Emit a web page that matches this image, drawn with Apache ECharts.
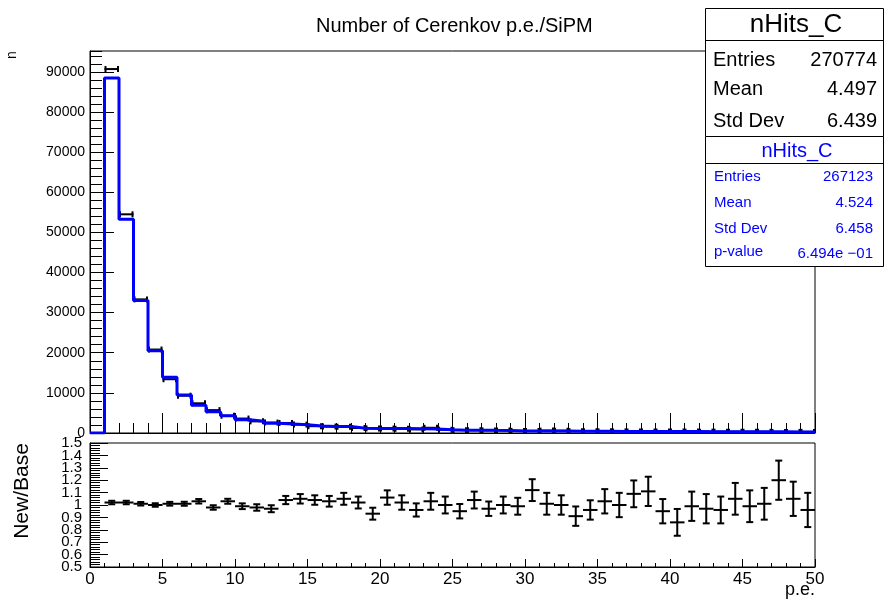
<!DOCTYPE html>
<html>
<head>
<meta charset="utf-8">
<script src="https://cdn.jsdelivr.net/npm/echarts@6/dist/echarts.min.js"></script>
<style>
  html, body { margin: 0; padding: 0; background: #fff; }
  #chart { width: 885px; height: 599px; }
</style>
</head>
<body>
<div id="chart"></div>
<script>
// bin low edges (width 1, 0..50)
const binLow = [0, 1, 2, 3, 4, 5, 6, 7, 8, 9, 10, 11, 12, 13, 14, 15, 16, 17, 18, 19,
    20, 21, 22, 23, 24, 25, 26, 27, 28, 29, 30, 31, 32, 33, 34, 35, 36, 37, 38, 39,
    40, 41, 42, 43, 44, 45, 46, 47, 48, 49];
// new sample (blue line)
const newCounts = [0, 88500, 53300, 33000, 20500, 13900, 9500, 6900, 5300, 4300,
    3300, 2900, 2400, 2250, 2080, 1750, 1650, 1600, 1200, 1150,
    1150, 1100, 1050, 1000, 800, 700, 680, 660, 650, 500,
    520, 480, 470, 450, 440, 420, 400, 390, 380, 370,
    360, 350, 340, 330, 320, 310, 300, 290, 280, 270];
// base sample (black error bars)
const baseCounts = [0, 90700, 54500, 33300, 20800, 13400, 9300, 7400, 5700, 4300,
    3600, 2900, 2600, 2500, 2100, 1700, 1600, 1550, 1250, 1150,
    1100, 1050, 900, 1300, 800, 700, 700, 650, 640, 520,
    500, 600, 560, 450, 450, 410, 400, 380, 360, 380,
    380, 350, 340, 340, 310, 310, 300, 260, 270, 280];
// New/Base ratio per bin (bin 0 empty)
const ratio = [null, 1.02, 1.02, 1.01, 1.00, 1.01, 1.01, 1.03, 0.98, 1.03,
    0.99, 0.98, 0.97, 1.04, 1.05, 1.04, 1.03, 1.05, 1.02, 0.93,
    1.06, 1.02, 0.96, 1.03, 1.00, 0.95, 1.04, 0.97, 1.00, 0.99,
    1.12, 1.01, 1.00, 0.91, 0.96, 1.03, 1.00, 1.09, 1.11, 0.95,
    0.86, 0.99, 0.97, 0.96, 1.05, 0.99, 1.01, 1.20, 1.05, 0.96];
const ratioErr = [null, 0.006, 0.006, 0.006, 0.006, 0.007, 0.008, 0.01, 0.01, 0.012,
    0.015, 0.018, 0.02, 0.025, 0.03, 0.03, 0.035, 0.04, 0.04, 0.04,
    0.05, 0.05, 0.045, 0.06, 0.06, 0.05, 0.06, 0.05, 0.06, 0.06,
    0.08, 0.08, 0.07, 0.07, 0.07, 0.09, 0.09, 0.1, 0.11, 0.09,
    0.1, 0.11, 0.11, 0.1, 0.12, 0.12, 0.12, 0.15, 0.13, 0.13];
const topTicks = 10000;
const ratioTicks = 0.1;
const ratioMin = 0.5, ratioMax = 1.5;

const FONT = 'Liberation Sans';

let chart = echarts.init(document.getElementById('chart'));

let blueData = binLow.map((x, i) => [x, newCounts[i]]);
blueData.push([binLow[binLow.length - 1] + 1, newCounts[newCounts.length - 1]]);

let baseData = [];
binLow.forEach((x, i) => {
    if (baseCounts[i] > 0) baseData.push([x, x + 1, baseCounts[i]]);
});
let ratioData = [];
binLow.forEach((x, i) => {
    if (ratio[i] != null) ratioData.push([x, x + 1, ratio[i], ratioErr[i]]);
});

function line(x1, y1, x2, y2, w) {
    return { type: 'line', shape: { x1: x1, y1: y1, x2: x2, y2: y2 }, style: { stroke: '#000', lineWidth: w } };
}

let option = {
    animation: false,
    backgroundColor: '#fff',
    textStyle: { fontFamily: FONT },
    title: {
        text: 'Number of Cerenkov p.e./SiPM',
        left: 311,
        top: 11,
        textStyle: { fontFamily: FONT, fontSize: 20, fontWeight: 'normal', color: '#000' }
    },
    grid: [
        { left: 90, right: 70, top: 51, bottom: 166, show: true, borderColor: '#000', borderWidth: 1 },
        { left: 90, right: 70, top: 443, bottom: 32, show: true, borderColor: '#000', borderWidth: 1 }
    ],
    xAxis: [
        {
            type: 'value', gridIndex: 0, min: 0, max: 50, interval: 5,
            axisLine: { lineStyle: { color: '#000' } },
            axisTick: { inside: true, length: 20, lineStyle: { color: '#000' } },
            minorTick: { show: true, splitNumber: 5, length: 10, lineStyle: { color: '#000' } },
            axisLabel: { show: false },
            splitLine: { show: false }
        },
        {
            type: 'value', gridIndex: 1, min: 0, max: 50, interval: 5,
            axisLine: { lineStyle: { color: '#000' } },
            axisTick: { inside: true, length: 8, lineStyle: { color: '#000' } },
            minorTick: { show: true, splitNumber: 5, length: 4, lineStyle: { color: '#000' } },
            axisLabel: { color: '#000', fontSize: 17, margin: 4, fontFamily: FONT, showMinLabel: true, showMaxLabel: true },
            splitLine: { show: false }
        }
    ],
    yAxis: [
        {
            type: 'value', gridIndex: 0, min: 0, max: 95200, interval: topTicks,
            axisLine: { show: true, lineStyle: { color: '#000' } },
            axisTick: { show: true, inside: true, length: 24, lineStyle: { color: '#000' } },
            axisLabel: {
                color: '#000', fontSize: 14, margin: 5, fontFamily: FONT, showMaxLabel: false,
                formatter: v => String(v)
            },
            splitLine: { show: false }
        },
        {
            type: 'value', gridIndex: 0, min: 0, max: 95200, interval: 2000, position: 'left',
            axisLine: { show: false },
            axisTick: { show: true, inside: true, length: 12, lineStyle: { color: '#000' } },
            axisLabel: { show: false },
            splitLine: { show: false }
        },
        {
            type: 'value', gridIndex: 1, min: ratioMin, max: ratioMax, interval: ratioTicks,
            axisLine: { show: true, lineStyle: { color: '#000' } },
            axisTick: { show: true, inside: true, length: 18, lineStyle: { color: '#000' } },
            minorTick: { show: true, splitNumber: 5, length: 10, lineStyle: { color: '#000' } },
            axisLabel: {
                color: '#000', fontSize: 15, margin: 8, fontFamily: FONT,
                showMinLabel: false, showMaxLabel: false
            },
            splitLine: { show: false }
        },
        {
            // end labels (0.5 and 1.5) of the ratio axis, drawn on an overlay axis
            type: 'value', gridIndex: 1, min: ratioMin, max: ratioMax, interval: ratioTicks, position: 'left',
            axisLine: { show: false },
            axisTick: { show: false },
            axisLabel: {
                color: '#000', fontSize: 15, margin: 8, fontFamily: FONT,
                showMinLabel: true, showMaxLabel: true,
                formatter: v => (Math.abs(v - ratioMin) < 1e-6 || Math.abs(v - ratioMax) < 1e-6) ? String(v) : ''
            },
            splitLine: { show: false }
        }
    ],
    series: [
        {
            name: 'base',
            type: 'custom',
            xAxisIndex: 0,
            yAxisIndex: 0,
            encode: { x: [0, 1], y: 2 },
            clip: true,
            z: 2,
            renderItem: function (params, api) {
                const a = api.coord([api.value(0), api.value(2)]);
                const b = api.coord([api.value(1), api.value(2)]);
                return {
                    type: 'group',
                    children: [
                        line(a[0], a[1], b[0], b[1], 2),
                        line(a[0] + 1, a[1] - 3, a[0] + 1, a[1] + 3, 2),
                        line(b[0] - 1, b[1] - 3, b[0] - 1, b[1] + 3, 2)
                    ]
                };
            },
            data: baseData
        },
        {
            name: 'new',
            type: 'line',
            xAxisIndex: 0,
            yAxisIndex: 0,
            step: 'end',
            showSymbol: false,
            symbol: 'none',
            z: 3,
            lineStyle: { color: '#0000ff', width: 3 },
            data: blueData
        },
        {
            name: 'ratio',
            type: 'custom',
            xAxisIndex: 1,
            yAxisIndex: 2,
            encode: { x: [0, 1], y: 2 },
            clip: true,
            renderItem: function (params, api) {
                const lo = api.value(0), hi = api.value(1), r = api.value(2), e = api.value(3);
                const a = api.coord([lo, r]);
                const b = api.coord([hi, r]);
                const top = api.coord([(lo + hi) / 2, r + e]);
                const bot = api.coord([(lo + hi) / 2, r - e]);
                return {
                    type: 'group',
                    children: [
                        line(a[0], a[1], b[0], b[1], 2),
                        line(top[0], top[1] - 1, bot[0], bot[1] + 1, 2),
                        line(top[0] - 3.5, top[1] - 1, top[0] + 3.5, top[1] - 1, 2),
                        line(bot[0] - 3.5, bot[1] + 1, bot[0] + 3.5, bot[1] + 1, 2)
                    ]
                };
            },
            data: ratioData
        }
    ],
    graphic: [
        // axis titles
        { type: 'text', x: 12, y: 55, rotation: Math.PI / 2, style: { text: 'n', font: '14px "Liberation Sans"', fill: '#000', align: 'center', verticalAlign: 'middle' } },
        { type: 'text', x: 22, y: 491, rotation: Math.PI / 2, style: { text: 'New/Base', font: '21px "Liberation Sans"', fill: '#000', align: 'center', verticalAlign: 'middle' } },
        { type: 'text', x: 815, y: 590, style: { text: 'p.e.', font: '18px "Liberation Sans"', fill: '#000', align: 'right', verticalAlign: 'middle' } },
        // stats box 1
        { type: 'rect', z: 10, shape: { x: 705.5, y: 8.5, width: 178, height: 128 }, style: { fill: '#fff', stroke: '#000', lineWidth: 1 } },
        { type: 'line', z: 11, shape: { x1: 705.5, y1: 40.5, x2: 883.5, y2: 40.5 }, style: { stroke: '#000', lineWidth: 1 } },
        { type: 'text', z: 11, x: 796, y: 25, style: { text: 'nHits_C', font: '26px "Liberation Sans"', fill: '#000', align: 'center', verticalAlign: 'middle' } },
        { type: 'text', z: 11, x: 713, y: 60, style: { text: 'Entries', font: '20px "Liberation Sans"', fill: '#000', verticalAlign: 'middle' } },
        { type: 'text', z: 11, x: 877, y: 60, style: { text: '270774', font: '20px "Liberation Sans"', fill: '#000', align: 'right', verticalAlign: 'middle' } },
        { type: 'text', z: 11, x: 713, y: 89, style: { text: 'Mean', font: '20px "Liberation Sans"', fill: '#000', verticalAlign: 'middle' } },
        { type: 'text', z: 11, x: 877, y: 89, style: { text: '4.497', font: '20px "Liberation Sans"', fill: '#000', align: 'right', verticalAlign: 'middle' } },
        { type: 'text', z: 11, x: 713, y: 121, style: { text: 'Std Dev', font: '20px "Liberation Sans"', fill: '#000', verticalAlign: 'middle' } },
        { type: 'text', z: 11, x: 877, y: 121, style: { text: '6.439', font: '20px "Liberation Sans"', fill: '#000', align: 'right', verticalAlign: 'middle' } },
        // stats box 2
        { type: 'rect', z: 10, shape: { x: 705.5, y: 136.5, width: 178, height: 130 }, style: { fill: '#fff', stroke: '#000', lineWidth: 1 } },
        { type: 'line', z: 11, shape: { x1: 705.5, y1: 163.5, x2: 883.5, y2: 163.5 }, style: { stroke: '#000', lineWidth: 1 } },
        { type: 'text', z: 11, x: 797, y: 151, style: { text: 'nHits_C', font: '20px "Liberation Sans"', fill: '#0000ff', align: 'center', verticalAlign: 'middle' } },
        { type: 'text', z: 11, x: 714, y: 177, style: { text: 'Entries', font: '15px "Liberation Sans"', fill: '#0000ff', verticalAlign: 'middle' } },
        { type: 'text', z: 11, x: 873, y: 177, style: { text: '267123', font: '15px "Liberation Sans"', fill: '#0000ff', align: 'right', verticalAlign: 'middle' } },
        { type: 'text', z: 11, x: 714, y: 203, style: { text: 'Mean', font: '15px "Liberation Sans"', fill: '#0000ff', verticalAlign: 'middle' } },
        { type: 'text', z: 11, x: 873, y: 203, style: { text: '4.524', font: '15px "Liberation Sans"', fill: '#0000ff', align: 'right', verticalAlign: 'middle' } },
        { type: 'text', z: 11, x: 714, y: 229, style: { text: 'Std Dev', font: '15px "Liberation Sans"', fill: '#0000ff', verticalAlign: 'middle' } },
        { type: 'text', z: 11, x: 873, y: 229, style: { text: '6.458', font: '15px "Liberation Sans"', fill: '#0000ff', align: 'right', verticalAlign: 'middle' } },
        { type: 'text', z: 11, x: 714, y: 252, style: { text: 'p-value', font: '15px "Liberation Sans"', fill: '#0000ff', verticalAlign: 'middle' } },
        { type: 'text', z: 11, x: 873, y: 254, style: { text: '6.494e \u221201', font: '15px "Liberation Sans"', fill: '#0000ff', align: 'right', verticalAlign: 'middle' } }
    ]
};

chart.setOption(option);
</script>
</body>
</html>
